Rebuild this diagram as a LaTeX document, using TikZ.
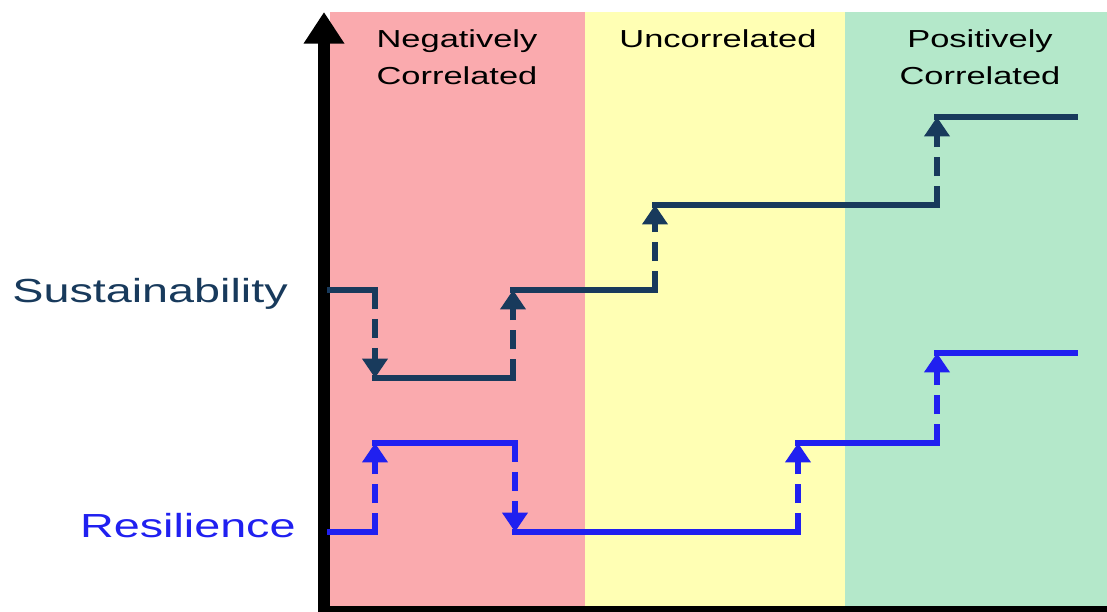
\documentclass[tikz,border=0pt]{standalone}
\usepackage{fontspec}
\setmainfont{Liberation Sans}
\usepackage{graphicx}
\usepackage{tkz-graph}
\usetikzlibrary{arrows.meta}
\definecolor{navy}{RGB}{24,58,92}
\definecolor{resblue}{RGB}{32,32,240}
\definecolor{negred}{RGB}{250,170,174}
\definecolor{uncyellow}{RGB}{255,255,180}
\definecolor{posgreen}{RGB}{180,232,202}
\newcommand{\wide}[1]{\scalebox{1.4}[1]{#1}}

\begin{document}
\begin{tikzpicture}[x=0.02cm, y=-0.02cm]
\useasboundingbox (0,0) rectangle (1107,612);
\fill[negred] (330,12) rectangle (585,606);
\fill[uncyellow] (585,12) rectangle (845,606);
\fill[posgreen] (845,12) rectangle (1107,606);
\coordinate (O) at (324,609);
\coordinate (Xend) at (1107,609);
\coordinate (Ytop) at (324,12);
\draw[line width=3.4pt] (318,609) -- (Xend);
\draw[line width=6.8pt, -{Triangle[width=22pt,length=18pt]}] (324,612) -- (Ytop);
\tikzset{head/.style={align=center, inner sep=0pt, font=\fontsize{14}{21}\selectfont}}
\tikzset{side/.style={inner sep=0pt, font=\fontsize{19}{19}\selectfont}}
\node[head] (neg) at (457,57) {\wide{Negatively}\\\wide{Correlated}};
\node[head, anchor=base] (unc) at (718,48) {\wide{Uncorrelated}};
\node[head] (pos) at (980,57) {\wide{Positively}\\\wide{Correlated}};
\node[side, anchor=base west, text=navy] (sus) at (12,302) {\wide{Sustainability}};
\node[side, anchor=base east, text=resblue] (res) at (296,537) {\wide{Resilience}};
\GraphInit[vstyle=Empty]
\SetVertexNoLabel
\tikzset{VertexStyle/.style ={inner sep=0pt, minimum size=0pt}}
\Vertex[x=330, y=290]{S0}
\Vertex[x=375, y=290]{S1}
\Vertex[x=375, y=378]{S2}
\Vertex[x=513, y=378]{S3}
\Vertex[x=513, y=290]{S4}
\Vertex[x=655, y=290]{S5}
\Vertex[x=655, y=205]{S6}
\Vertex[x=937, y=205]{S7}
\Vertex[x=937, y=117]{S8}
\Vertex[x=1075, y=117]{S9}
\Vertex[x=330, y=532]{R0}
\Vertex[x=375, y=532]{R1}
\Vertex[x=375, y=443]{R2}
\Vertex[x=515, y=443]{R3}
\Vertex[x=515, y=532]{R4}
\Vertex[x=798, y=532]{R5}
\Vertex[x=798, y=443]{R6}
\Vertex[x=937, y=443]{R7}
\Vertex[x=937, y=353]{R8}
\Vertex[x=1075, y=353]{R9}
\tikzset{EdgeStyle/.style ={line width=3.8pt, line cap=rect, draw=navy}}
\Edge(S0)(S1)
\Edge(S2)(S3)
\Edge(S4)(S5)
\Edge(S6)(S7)
\Edge(S8)(S9)
\tikzset{EdgeStyle/.style ={line width=3.8pt, draw=navy, dash pattern=on 11pt off 5.5pt, -{Triangle[width=14pt,length=11pt]}}}
\Edge(S1)(S2)
\Edge(S3)(S4)
\Edge(S5)(S6)
\Edge(S7)(S8)
\tikzset{EdgeStyle/.style ={line width=3.8pt, line cap=rect, draw=resblue}}
\Edge(R0)(R1)
\Edge(R2)(R3)
\Edge(R4)(R5)
\Edge(R6)(R7)
\Edge(R8)(R9)
\tikzset{EdgeStyle/.style ={line width=3.8pt, draw=resblue, dash pattern=on 11pt off 5.5pt, -{Triangle[width=14pt,length=11pt]}}}
\Edge(R1)(R2)
\Edge(R3)(R4)
\Edge(R5)(R6)
\Edge(R7)(R8)
\end{tikzpicture}
\end{document}
